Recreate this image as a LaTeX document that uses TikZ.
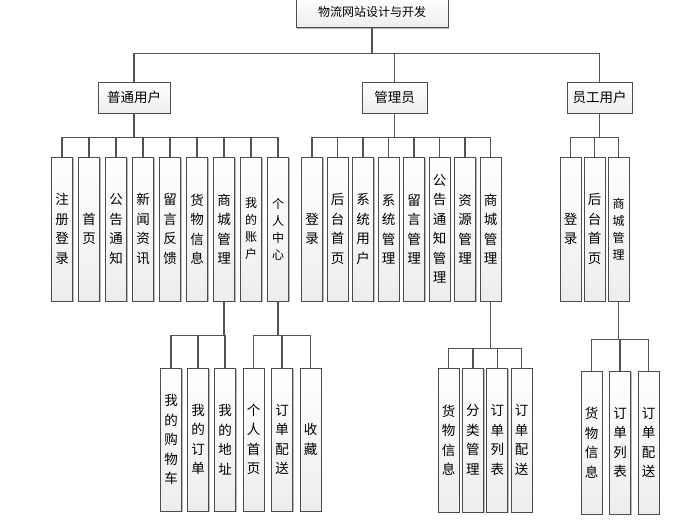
\documentclass[tikz,border=0pt]{standalone}
\usepackage{fontspec}
\newfontfamily\cjk{Noto Sans CJK SC}
\usetikzlibrary{shadows}
\tikzstyle{box} = [rectangle, draw=gray!60!black, line width=0.8pt,
    top color=white, bottom color=gray!14, inner sep=1pt,
    drop shadow={shadow xshift=1.2pt, shadow yshift=-1.2pt, fill=gray!55, opacity=1}]
\tikzstyle{rolebox} = [box, minimum width=65pt, minimum height=31pt,
    font=\cjk\fontsize{13.5}{16}\selectfont]
\tikzstyle{itembox} = [box, minimum width=21pt, minimum height=144pt,
    align=center, font=\cjk\fontsize{13.5}{19.5}\selectfont]
\tikzstyle{smallitem} = [itembox, font=\cjk\fontsize{12}{17}\selectfont]
\tikzstyle{link} = [draw=gray!65!black, line width=1.2pt]

\begin{document}
\begin{tikzpicture}[x=1pt, y=-1pt, node distance=27pt]
            \useasboundingbox (0,0) rectangle (690,532);
            % Roles
            \node[rolebox, minimum width=152pt,
            font=\cjk\fontsize{12}{14}\selectfont] (root) at (372,12) {物流网站设计与开发};
            \node[rolebox, minimum width=72pt] (user) at (134,97.5) {普通用户};
            \node[rolebox] (admin) at (394.5,97.5) {管理员};
            \node[rolebox] (staff) at (599.5,97.5) {员工用户};
            % Ordinary user
            \node[itembox] (u1) at (62,229) {注\\册\\登\\录};
            \node[itembox, right of=u1] (u2) {首\\页};
            \node[itembox, right of=u2] (u3) {公\\告\\通\\知};
            \node[itembox, right of=u3] (u4) {新\\闻\\资\\讯};
            \node[itembox, right of=u4] (u5) {留\\言\\反\\馈};
            \node[itembox, right of=u5] (u6) {货\\物\\信\\息};
            \node[itembox, right of=u6] (u7) {商\\城\\管\\理};
            \node[smallitem, right of=u7] (u8) {我\\的\\账\\户};
            \node[smallitem, right of=u8] (u9) {个\\人\\中\\心};
            \node[itembox, minimum height=143pt] (u71) at (171,439.5) {我\\的\\购\\物\\车};
            \node[itembox, minimum height=143pt, right of=u71] (u72) {我\\的\\订\\单};
            \node[itembox, minimum height=143pt, right of=u72] (u73) {我\\的\\地\\址};
            \node[itembox, minimum height=143pt] (u91) at (253.5,439.5) {个\\人\\首\\页};
            \node[itembox, minimum height=143pt, right of=u91, xshift=1.5pt] (u92) {订\\单\\配\\送};
            \node[itembox, minimum height=143pt, right of=u92, xshift=1.5pt] (u93) {收\\藏};
            % Administrator
            \node[itembox] (a1) at (312,229) {登\\录};
            \node[itembox, right of=a1, xshift=-1.5pt] (a2) {后\\台\\首\\页};
            \node[itembox, right of=a2, xshift=-1.5pt] (a3) {系\\统\\用\\户};
            \node[itembox, right of=a3, xshift=-1.5pt] (a4) {系\\统\\管\\理};
            \node[itembox, right of=a4, xshift=-1.5pt] (a5) {留\\言\\管\\理};
            \node[itembox, right of=a5, xshift=-1.5pt] (a6) {公\\告\\通\\知\\管\\理};
            \node[itembox, right of=a6, xshift=-1.5pt] (a7) {资\\源\\管\\理};
            \node[itembox, right of=a7, xshift=-1.5pt] (a8) {商\\城\\管\\理};
            \node[itembox] (a81) at (448.5,440) {货\\物\\信\\息};
            \node[itembox, right of=a81, xshift=-2.6pt] (a82) {分\\类\\管\\理};
            \node[itembox, right of=a82, xshift=-2.6pt] (a83) {订\\单\\列\\表};
            \node[itembox, right of=a83, xshift=-2.6pt] (a84) {订\\单\\配\\送};
            % Staff
            \node[itembox] (s1) at (570.5,229) {登\\录};
            \node[itembox, right of=s1, xshift=-3pt] (s2) {后\\台\\首\\页};
            \node[smallitem, right of=s2, xshift=-3pt] (s3) {商\\城\\管\\理};
            \node[itembox, minimum height=143pt] (s31) at (591.5,442.5) {货\\物\\信\\息};
            \node[itembox, minimum height=143pt, right of=s31, xshift=1.5pt] (s32) {订\\单\\列\\表};
            \node[itembox, minimum height=143pt, right of=s32, xshift=1.5pt] (s33) {订\\单\\配\\送};
            % Lines
            \draw[link] (user.north) -- ++(0,-28) -| (root.south);
            \draw[link] (admin.north) -- ++(0,-28) -| (root.south);
            \draw[link] (staff.north) -- ++(0,-28) -| (root.south);
            \draw[link] (u1.north) -- ++(0,-19) -| (user.south);
            \draw[link] (u2.north) -- ++(0,-19) -| (user.south);
            \draw[link] (u3.north) -- ++(0,-19) -| (user.south);
            \draw[link] (u4.north) -- ++(0,-19) -| (user.south);
            \draw[link] (u5.north) -- ++(0,-19) -| (user.south);
            \draw[link] (u6.north) -- ++(0,-19) -| (user.south);
            \draw[link] (u7.north) -- ++(0,-19) -| (user.south);
            \draw[link] (u8.north) -- ++(0,-19) -| (user.south);
            \draw[link] (u9.north) -- ++(0,-19) -| (user.south);
            \draw[link] (u71.north) -- ++(0,-32) -| (u7.south);
            \draw[link] (u72.north) -- ++(0,-32) -| (u7.south);
            \draw[link] (u73.north) -- ++(0,-32) -| (u7.south);
            \draw[link] (u91.north) -- ++(0,-32) -| (u9.south);
            \draw[link] (u92.north) -- ++(0,-32) -| (u9.south);
            \draw[link] (u93.north) -- ++(0,-32) -| (u9.south);
            \draw[link] (a1.north) -- ++(0,-19) -| (admin.south);
            \draw[link] (a2.north) -- ++(0,-19) -| (admin.south);
            \draw[link] (a3.north) -- ++(0,-19) -| (admin.south);
            \draw[link] (a4.north) -- ++(0,-19) -| (admin.south);
            \draw[link] (a5.north) -- ++(0,-19) -| (admin.south);
            \draw[link] (a6.north) -- ++(0,-19) -| (admin.south);
            \draw[link] (a7.north) -- ++(0,-19) -| (admin.south);
            \draw[link] (a8.north) -- ++(0,-19) -| (admin.south);
            \draw[link] (a81.north) -- ++(0,-19) -| (a8.south);
            \draw[link] (a82.north) -- ++(0,-19) -| (a8.south);
            \draw[link] (a83.north) -- ++(0,-19) -| (a8.south);
            \draw[link] (a84.north) -- ++(0,-19) -| (a8.south);
            \draw[link] (s1.north) -- ++(0,-19) -| (staff.south);
            \draw[link] (s2.north) -- ++(0,-19) -| (staff.south);
            \draw[link] (s3.north) -- ++(0,-19) -| (staff.south);
            \draw[link] (s31.north) -- ++(0,-31) -| (s3.south);
            \draw[link] (s32.north) -- ++(0,-31) -| (s3.south);
            \draw[link] (s33.north) -- ++(0,-31) -| (s3.south);

        \end{tikzpicture}
\end{document}
